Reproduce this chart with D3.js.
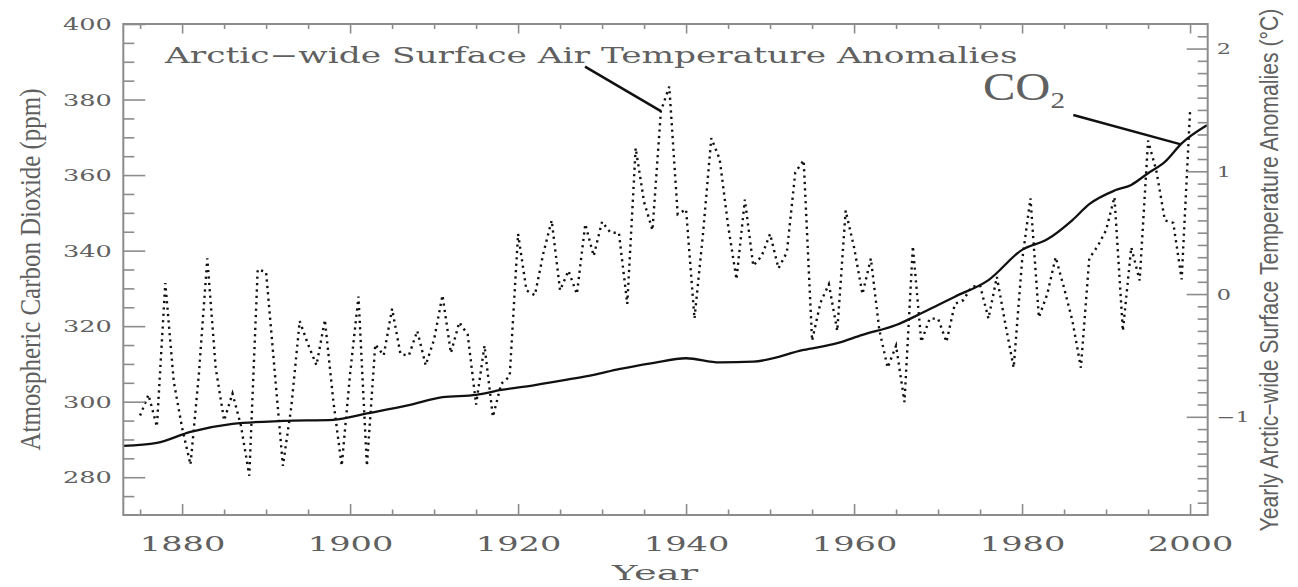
<!DOCTYPE html>
<html><head><meta charset="utf-8">
<script src="https://cdn.jsdelivr.net/npm/d3@7/dist/d3.min.js"></script>
<style>html,body{margin:0;padding:0;background:#fff;} svg{display:block;}</style>
</head><body>
<svg id="c" width="1298" height="587"></svg>
<script>
// ---------------- data ----------------
const co2Years  = [1873,1877,1881,1886,1892,1898,1902,1907,1911,1915,1918,1922,1926,1929,1932,1936,1940,1944,1948,1954,1958,1961,1965,1968,1970,1972,1976,1980,1983,1986,1988,1991,1993,1995,1997,1999,2002];
const co2Values = [288.3,289.1,292.0,294.1,294.9,295.2,296.9,299.1,301.2,301.8,303.1,304.4,305.9,307.1,308.6,310.2,311.5,310.4,310.6,313.7,315.5,317.7,320.3,323.4,325.6,327.8,332.2,340.2,343.0,348.1,352.3,355.9,357.4,360.5,363.5,368.4,373.2];

const tempStartYear = 1875;
const tempValues = [
 -0.99,-0.82,-1.08, 0.09,-0.71,-1.09,-1.39,-0.65, 0.29,-0.60, // 1875-1884
 -1.03,-0.81,-1.07,-1.48, 0.20, 0.18,-0.61,-1.40,-0.92,-0.22, // 1885-1894
 -0.41,-0.58,-0.21,-0.87,-1.40,-0.65,-0.02,-1.40,-0.41,-0.50, // 1895-1904
 -0.12,-0.49,-0.50,-0.30,-0.58,-0.37,-0.01,-0.48,-0.23,-0.33, // 1905-1914
 -0.90,-0.42,-1.00,-0.73,-0.67, 0.49, 0.03,-0.01, 0.33, 0.60, // 1915-1924
  0.03, 0.19, 0.00, 0.57, 0.31, 0.59, 0.50, 0.50,-0.08, 1.19, // 1925-1934
  0.75, 0.52, 1.49, 1.69, 0.65, 0.69,-0.20, 0.48, 1.27, 1.10, // 1935-1944
  0.56, 0.12, 0.77, 0.23, 0.31, 0.49, 0.21, 0.34, 0.99, 1.09, // 1945-1954
 -0.38,-0.07, 0.08,-0.30, 0.68, 0.38, 0.00, 0.29,-0.29,-0.60, // 1955-1964
 -0.42,-0.88, 0.39,-0.39,-0.20,-0.20,-0.39,-0.08,-0.05, 0.06, // 1965-1974
  0.07,-0.20, 0.14,-0.24,-0.60, 0.27, 0.78,-0.19, 0.00, 0.30, // 1975-1984
  0.05,-0.22,-0.60, 0.29, 0.39, 0.52, 0.79,-0.30, 0.38, 0.11, // 1985-1994
  1.25, 1.00, 0.60, 0.58, 0.12, 1.49                          // 1995-2000
];

const yearMajorTicks = [1880,1900,1920,1940,1960,1980,2000];
const yearMinorTicks = [1875,1885,1890,1895,1905,1910,1915,1925,1930,1935,1945,1950,1955,1965,1970,1975,1985,1990,1995];
const co2MajorTicks = [280,300,320,340,360,380,400];
const co2MinorTicks = [275,285,290,295,305,310,315,325,330,335,345,350,355,365,370,375,385,390,395];
const tempMajorTicks = [-1,0,1,2];
const tempTickLabels = ["\u22121","0","1","2"];
const tempMinorTicks = [-1.7,-1.6,-1.5,-1.4,-1.3,-1.2,-1.1,-0.9,-0.8,-0.7,-0.6,-0.5,-0.4,-0.3,-0.2,-0.1,
                        0.1,0.2,0.3,0.4,0.5,0.6,0.7,0.8,0.9,1.1,1.2,1.3,1.4,1.5,1.6,1.7,1.8,1.9,2.1];

const titleText = "Arctic\u2212wide Surface Air Temperature Anomalies";
const xTitle = "Year";
const leftTitle = "Atmospheric Carbon Dioxide (ppm)";
const rightTitle = "Yearly Arctic\u2212wide Surface Temperature Anomalies (\u00B0C)";

// ---------------- layout ----------------
const L = 123.3, R = 1207.7, T = 24, B = 515;
const AX = "#8c8c8c", TX = "#606060", INK = "#111";
const SX = 1.6;
const HERSHEY = "'DejaVu Serif', serif";

const x  = d3.scaleLinear().domain([1873, 2002.1]).range([L, R]);
const yL = d3.scaleLinear().domain([270, 400]).range([B, T]);
const yR = d3.scaleLinear().domain([-1.8, 2.2]).range([B, T]);

const svg = d3.select("#c");

// ---------------- marks ----------------
const co2Data = co2Years.map((yr, i) => [yr, co2Values[i]]);
const tempData = tempValues.map((v, i) => [tempStartYear + i, v]);

svg.append("path")
  .datum(tempData)
  .attr("fill", "none")
  .attr("stroke", INK)
  .attr("stroke-width", 2.4)
  .attr("stroke-dasharray", "2.2,4.2")
  .attr("d", d3.line().x(d => x(d[0])).y(d => yR(d[1])));

svg.append("path")
  .datum(co2Data)
  .attr("fill", "none")
  .attr("stroke", INK)
  .attr("stroke-width", 2.3)
  .attr("d", d3.line().curve(d3.curveMonotoneX).x(d => x(d[0])).y(d => yL(d[1])));

// ---------------- axes (ticks) ----------------
function tickG(axis, tx, ty) {
  const g = svg.append("g").attr("transform", `translate(${tx},${ty})`).call(axis);
  g.select(".domain").remove();
  g.selectAll("line").attr("stroke", AX).attr("stroke-width", 1.6);
  return g;
}
tickG(d3.axisRight(yL).tickValues(co2MajorTicks).tickSize(22).tickFormat(""), L, 0);
tickG(d3.axisRight(yL).tickValues(co2MinorTicks).tickSize(11).tickFormat(""), L, 0);
tickG(d3.axisLeft(yR).tickValues(tempMajorTicks).tickSize(21).tickFormat(""), R, 0);
tickG(d3.axisLeft(yR).tickValues(tempMinorTicks).tickSize(10).tickFormat(""), R, 0);
tickG(d3.axisTop(x).tickValues(yearMajorTicks).tickSize(11).tickFormat(""), 0, B);
tickG(d3.axisTop(x).tickValues(yearMinorTicks).tickSize(5.5).tickFormat(""), 0, B);
tickG(d3.axisBottom(x).tickValues(yearMajorTicks).tickSize(9.5).tickFormat(""), 0, T);
tickG(d3.axisBottom(x).tickValues(yearMinorTicks).tickSize(5).tickFormat(""), 0, T);

// frame
svg.append("rect").attr("x", L).attr("y", T).attr("width", R - L).attr("height", B - T)
  .attr("fill", "none").attr("stroke", AX).attr("stroke-width", 2);

// ---------------- tick labels ----------------
function labelAxis(axis, tx, ty, size, fn) {
  const g = svg.append("g").attr("transform", `translate(${tx},${ty})`).call(axis);
  g.select(".domain").remove();
  g.selectAll("line").remove();
  g.selectAll("text").attr("font-family", HERSHEY).attr("font-size", size).attr("fill", TX);
  fn(g.selectAll("text"));
}
labelAxis(d3.axisLeft(yL).tickValues(co2MajorTicks).tickSize(0), L, 0, 16,
  t => t.attr("text-anchor", "end").attr("x", -11.5 / SX).attr("dy", "0.36em").attr("transform", `scale(${SX},1)`));
labelAxis(d3.axisBottom(x).tickValues(yearMajorTicks).tickSize(0).tickFormat(d3.format("d")), 0, B, 21,
  t => t.attr("text-anchor", "middle").attr("x", 0).attr("y", 36.5).attr("dy", 0).attr("transform", `scale(${SX},1)`));
labelAxis(d3.axisRight(yR).tickValues(tempMajorTicks).tickSize(0).tickFormat((d, i) => tempTickLabels[i]), R, 0, 14,
  t => t.attr("text-anchor", "start").attr("x", 9 / SX).attr("dy", "0.36em").attr("transform", `scale(${SX},1)`));

// ---------------- titles ----------------
function fitText(sel, width) { return width / sel.node().getComputedTextLength(); }

const title = svg.append("text").text(titleText)
  .attr("font-family", HERSHEY).attr("font-size", 22).attr("fill", TX);
title.attr("transform", `translate(165,62.5) scale(${fitText(title, 853)},1)`);

const yearT = svg.append("text").text(xTitle)
  .attr("font-family", HERSHEY).attr("font-size", 21).attr("fill", TX).attr("text-anchor", "middle");
yearT.attr("transform", `translate(655,580) scale(${fitText(yearT, 86)},1)`);

const co2T = svg.append("text").attr("font-family", "'Liberation Serif', serif").attr("fill", TX);
co2T.append("tspan").attr("font-size", 40).text("CO");
co2T.append("tspan").attr("font-size", 24).attr("dy", 8).text("2");
co2T.attr("transform", `translate(983,100) scale(${fitText(co2T, 82)},1)`);

// left title (rotated)
const lt = svg.append("text").text(leftTitle).attr("font-family", "'Liberation Serif', serif")
  .attr("font-size", 22).attr("fill", TX).attr("text-anchor", "middle");
const ltSize = 22 * 362 / lt.node().getComputedTextLength();
lt.attr("font-size", ltSize)
  .attr("transform", `translate(40,269.5) scale(${19.3 / (0.662 * ltSize)},1) rotate(-90)`);

// right title (rotated)
const rt = svg.append("text").text(rightTitle).attr("font-family", "'Liberation Sans', sans-serif")
  .attr("font-size", 18).attr("fill", TX).attr("text-anchor", "middle");
const rtSize = 18 * 523 / rt.node().getComputedTextLength();
rt.attr("font-size", rtSize)
  .attr("transform", `translate(1278,270) scale(${18 / (0.716 * rtSize)},1) rotate(-90)`);

// ---------------- pointer lines ----------------
const arcticIdx = 1937 - tempStartYear;
svg.append("line").attr("x1", 585).attr("y1", 66.7)
  .attr("x2", x(tempStartYear + arcticIdx)).attr("y2", yR(tempValues[arcticIdx]))
  .attr("stroke", INK).attr("stroke-width", 2.5);
svg.append("line").attr("x1", 1073.3).attr("y1", 115)
  .attr("x2", x(1998.8)).attr("y2", yL(368.2))
  .attr("stroke", INK).attr("stroke-width", 2.5);
</script>
</body></html>
